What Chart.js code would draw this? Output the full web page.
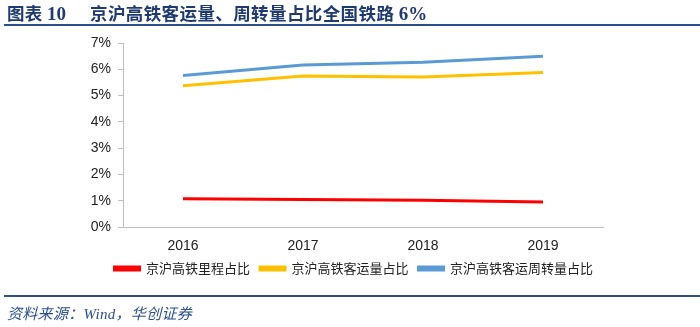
<!DOCTYPE html>
<html>
<head>
<meta charset="utf-8">
<script src="https://cdn.jsdelivr.net/npm/chart.js@4"></script>
<style>
  html, body { margin: 0; padding: 0; background: #fff; }
  #wrap { position: relative; width: 700px; height: 327px; overflow: hidden; }
  #myChart { position: absolute; left: 0; top: 0; }
  .title { position: absolute; left: 7px; top: 0px; font-family: "Noto Sans CJK SC"; font-weight: 700;
           font-size: 17.5px; color: #1f3a70; white-space: nowrap; letter-spacing: 0.3px; }
  .title .num { font-family: "Liberation Serif"; font-weight: 700; font-size: 19px; letter-spacing: 0; }
  .title .main { position: absolute; left: 83px; top: 0; letter-spacing: 0.4px; }
  .rule { position: absolute; left: 4px; width: 696px; height: 2px; background: #2b4f8f; }
  .source { position: absolute; left: 7px; top: 302px; font-family: "Liberation Serif", "Noto Sans CJK SC";
            font-style: italic; font-size: 15px; color: #2b4f8f; white-space: nowrap; letter-spacing: 0.3px; }
</style>
</head>
<body>
<div id="wrap">
  <canvas id="myChart" width="700" height="327"></canvas>
  <div class="title">图表 <span class="num">10</span><span class="main">京沪高铁客运量、周转量占比全国铁路 <span class="num">6%</span></span></div>
  <div class="rule" style="top:24px"></div>
  <div class="rule" style="top:295px"></div>
  <div class="source">资料来源：Wind，华创证券</div>
</div>
<script>
// years on the x axis
let years = ['2016', '2017', '2018', '2019'];

// share of national railway (%)
let mileageShare   = [1.07, 1.05, 1.02, 0.95];  // 京沪高铁里程占比
let passengerShare = [5.37, 5.74, 5.71, 5.88];  // 京沪高铁客运量占比
let turnoverShare  = [5.76, 6.16, 6.27, 6.50];  // 京沪高铁客运周转量占比

let seriesNames = ['京沪高铁里程占比', '京沪高铁客运量占比', '京沪高铁客运周转量占比'];
let seriesColors = ['#ff0000', '#ffc000', '#5b9bd5'];
let seriesData = [mileageShare, passengerShare, turnoverShare];

let datasets = [];
for (let i = 0; i < seriesData.length; i++) {
  datasets.push({
    label: seriesNames[i],
    data: seriesData[i],
    borderColor: seriesColors[i],
    backgroundColor: seriesColors[i],
    borderWidth: 3,
    pointRadius: 0,
    pointHoverRadius: 0,
    fill: false,
    tension: 0
  });
}

let options = {
  type: 'line',
  data: { labels: years, datasets: datasets },
  options: {
    responsive: false,
    animation: false,
    layout: { padding: { left: 0, right: 97, top: 43, bottom: 42 } },
    plugins: {
      tooltip: { enabled: false },
      legend: {
        position: 'bottom',
        align: 'end',
        labels: {
          boxWidth: 25,
          boxHeight: 3,
          padding: 10,
          color: '#222',
          font: { family: 'Noto Sans CJK SC', size: 13 }
        }
      }
    },
    scales: {
      x: {
        offset: true,
        grid: { display: true, drawOnChartArea: false, drawTicks: false, color: '#bfbfbf' },
        border: { display: true, color: '#bfbfbf', width: 1 },
        ticks: { padding: 11, color: '#222', font: { family: 'Liberation Sans', size: 14 } },
        afterFit: function(scale) { scale.height = 25; }
      },
      y: {
        min: 0,
        max: 7,
        grid: { display: true, drawOnChartArea: false, drawTicks: true, tickLength: 5, color: '#bfbfbf' },
        border: { display: true, color: '#bfbfbf', width: 1 },
        ticks: {
          stepSize: 1,
          padding: 7,
          color: '#222',
          font: { family: 'Liberation Sans', size: 14 },
          callback: function(v) { return v + '%'; }
        },
        afterFit: function(scale) { scale.width = 123; }
      }
    }
  }
};

let mChart = new Chart(document.getElementById('myChart'), options);
</script>
</body>
</html>
